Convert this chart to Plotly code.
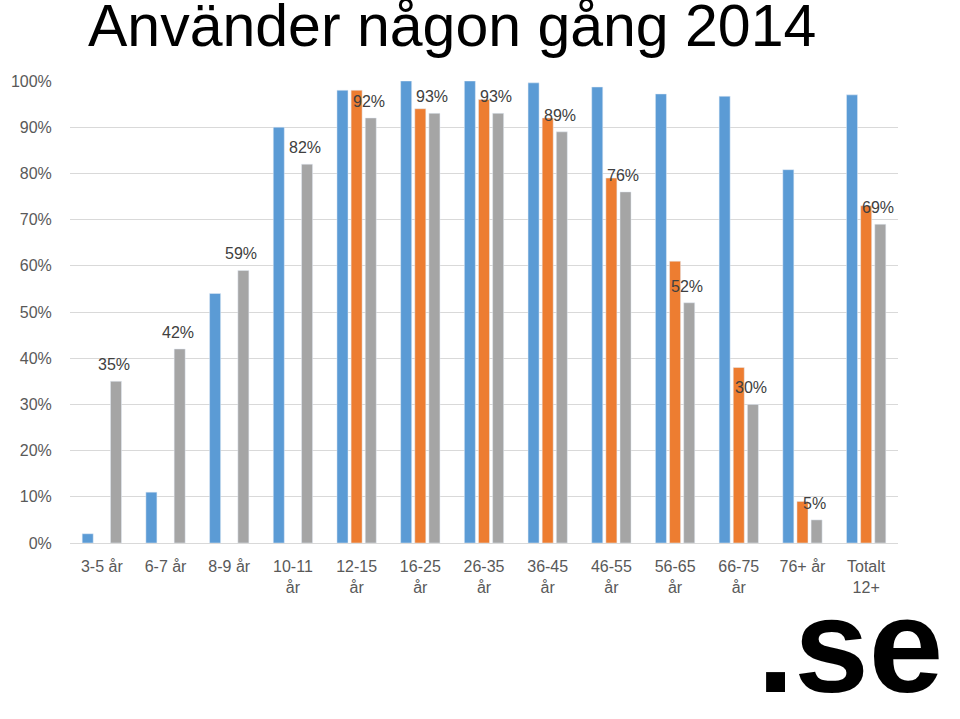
import plotly.graph_objects as go

categories = ["3-5 år", "6-7 år", "8-9 år", "10-11<br>år", "12-15<br>år", "16-25<br>år",
              "26-35<br>år", "36-45<br>år", "46-55<br>år", "56-65<br>år", "66-75<br>år",
              "76+ år", "Totalt<br>12+"]
blue_values = [2, 11, 54, 90, 98, 100, 100, 99.6, 98.7, 97.2, 96.7, 80.8, 97]
orange_values = [None, None, None, None, 98, 94, 96, 92, 79, 61, 38, 9, 73]
gray_values = [35, 42, 59, 82, 92, 93, 93, 89, 76, 52, 30, 5, 69]
gray_labels = [f"{v}%" for v in gray_values]

BLUE = "#5B9BD5"
ORANGE = "#ED7D31"
GRAY = "#A5A5A5"

fig = go.Figure()
fig.add_trace(go.Bar(x=categories, y=blue_values, marker_color=BLUE, name="A"))
fig.add_trace(go.Bar(x=categories, y=orange_values, marker_color=ORANGE, name="B"))
fig.add_trace(go.Bar(x=categories, y=gray_values, marker_color=GRAY, name="C"))

for c, v, t in zip(categories, gray_values, gray_labels):
    fig.add_annotation(x=c, y=v, xref="x", yref="y", text=t, showarrow=False,
                       xshift=12, yshift=6, yanchor="bottom", xanchor="center",
                       font=dict(family="Liberation Sans", size=16, color="#404040"))

fig.add_annotation(text="Använder någon gång 2014", xref="paper", yref="paper",
                   x=(86 - 70) / 828, y=1.0 + (81 - 26) / 462, xanchor="left", yanchor="middle",
                   showarrow=False,
                   font=dict(family="Liberation Sans", size=59, color="#000000"))

fig.add_annotation(text="<b>.se</b>", xref="paper", yref="paper",
                   x=(945 - 70) / 828, y=(543 - 645) / 462, xanchor="right", yanchor="middle",
                   showarrow=False,
                   font=dict(family="Liberation Sans", size=134, color="#000000"))

fig.update_layout(
    width=960, height=719,
    margin=dict(l=70, r=62, t=81, b=176),
    paper_bgcolor="white", plot_bgcolor="white",
    showlegend=False,
    barmode="group", bargap=0.334, bargroupgap=0.22,
    font=dict(family="Liberation Sans", size=16, color="#595959"),
)
fig.update_xaxes(showgrid=False, showline=True, linecolor="#D9D9D9", linewidth=1,
                 tickfont=dict(size=16, color="#595959"), ticks="outside", ticklen=9,
                 tickcolor="rgba(0,0,0,0)", automargin=False)
fig.update_yaxes(range=[0, 100], dtick=10, ticksuffix="%", showgrid=True,
                 gridcolor="#D9D9D9", gridwidth=1, zeroline=False, showline=False,
                 tickfont=dict(size=16, color="#595959"), ticks="outside", ticklen=14,
                 tickcolor="rgba(0,0,0,0)", automargin=False)

fig.write_html("out.html", config={"displayModeBar": False},
               post_script="document.body.style.margin='0';document.body.style.overflow='hidden';")
